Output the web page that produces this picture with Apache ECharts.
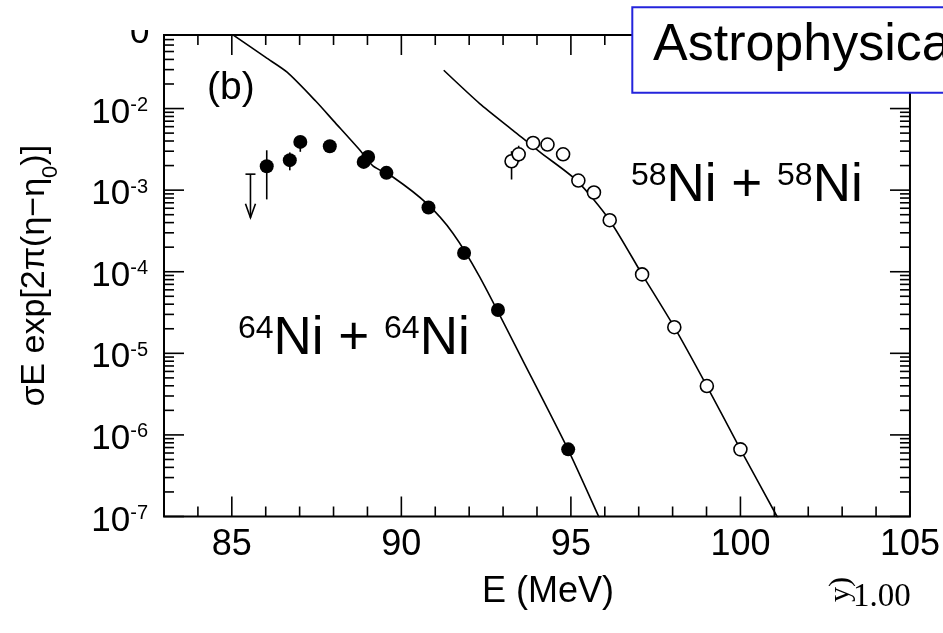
<!DOCTYPE html>
<html>
<head>
<meta charset="utf-8">
<script src="https://cdn.jsdelivr.net/npm/echarts@6/dist/echarts.min.js"></script>
<style>
  html, body { margin: 0; padding: 0; background: #fff; }
  #chart { width: 943px; height: 633px; }
</style>
</head>
<body>
<div id="chart"></div>
<script>
// ---- axis ranges and ticks ----
const X_MIN = 83, X_MAX = 105;
const Y_MIN = 1e-7, Y_MAX = 0.0797;
const xMajorTicks = [85, 90, 95, 100, 105];
const xMinorTicks = [84, 86, 87, 88, 89, 91, 92, 93, 94, 96, 97, 98, 99, 101, 102, 103, 104];
const yDecades = [-7, -6, -5, -4, -3, -2];
const yMantissas = [2, 3, 4, 5, 6, 7, 8, 9];

// ---- 64Ni + 64Ni (filled circles) ----
const ni64E = [86.03, 86.71, 87.02, 87.89, 88.89, 89.02, 89.56, 90.80, 91.85, 92.85, 94.92];
const ni64V = [1.96e-3, 2.33e-3, 3.9e-3, 3.45e-3, 2.22e-3, 2.55e-3, 1.63e-3, 6.12e-4, 1.70e-4, 3.4e-5, 6.65e-7];
const ni64ErrE  = [86.03, 86.71, 87.02];
const ni64ErrLo = [7.7e-4, 1.75e-3, 2.95e-3];
const ni64ErrHi = [3.08e-3, 2.9e-3, 4.6e-3];
// upper limit at the lowest energy
const ni64LimitE = [85.55];
const ni64LimitTop = [1.57e-3];
const ni64LimitTip = [4.6e-4];

// ---- 58Ni + 58Ni (open circles) ----
const ni58E = [93.25, 93.46, 93.885, 94.31, 94.77, 95.22, 95.68, 96.145, 97.10, 98.05, 99.01, 100.0];
const ni58V = [2.26e-3, 2.75e-3, 3.79e-3, 3.62e-3, 2.75e-3, 1.31e-3, 9.35e-4, 4.28e-4, 9.27e-5, 2.09e-5, 3.97e-6, 6.65e-7];
const ni58ErrE  = [93.25, 93.46];
const ni58ErrLo = [1.35e-3, 2.2e-3];
const ni58ErrHi = [3.0e-3, 3.5e-3];

// ---- calculated curves ----
const curve64E = [85.0, 86.0, 86.63, 87.48, 88.0, 88.78, 89.16, 89.75, 90.74, 91.52, 92.31, 93.61, 94.91, 95.82, 96.0];
const curve64V = [0.0818, 0.0423, 0.0279, 0.01227, 0.00706, 0.00308, 0.00199, 0.00145, 6.92e-4, 2.97e-4, 8.65e-5, 7.76e-6, 6.71e-7, 1.0e-7, 6.76e-8];
const curve58E = [91.25, 92.31, 93.29, 94.08, 95.16, 96.14, 97.10, 98.05, 99.01, 100.0, 101.08, 101.3];
const curve58V = [0.02944, 0.01151, 0.00542, 0.00294, 0.001324, 4.285e-4, 9.29e-5, 2.094e-5, 3.97e-6, 6.65e-7, 1.0e-7, 6.76e-8];

const zip = (a, b) => a.map((v, i) => [v, b[i]]);
const zip3 = (a, b, c) => a.map((v, i) => [v, b[i], c[i]]);

// tick marks on all four sides of the frame
const xTickData = xMajorTicks.map(e => [e, Y_MIN, 20]).concat(xMinorTicks.map(e => [e, Y_MIN, 10]));
const yTickData = [];
yDecades.forEach(d => {
  yTickData.push([X_MIN, Math.pow(10, d), 20]);
  yMantissas.forEach(m => {
    const v = m * Math.pow(10, d);
    if (v < Y_MAX) yTickData.push([X_MIN, v, 10]);
  });
});

const FONT = 'Liberation Sans, Arial, Helvetica, sans-serif';
const SERIF = 'Liberation Serif, Times New Roman, serif';
const INK = '#000';

const chart = echarts.init(document.getElementById('chart'), null, { renderer: 'canvas' });

chart.setOption({
  animation: false,
  backgroundColor: '#fff',
  grid: {
    left: 164, top: 35, width: 746.5, height: 481.5,
    show: true, borderColor: INK, borderWidth: 2, backgroundColor: 'transparent'
  },
  xAxis: {
    type: 'value', min: X_MIN, max: X_MAX,
    axisLine: { show: false },
    axisTick: { show: false },
    splitLine: { show: false },
    axisLabel: {
      margin: 11, color: INK, fontFamily: FONT, fontSize: 36,
      formatter: v => (Math.abs(v % 5) < 1e-9 ? String(v) : '')
    },
    name: 'E (MeV)', nameLocation: 'middle', nameGap: 58,
    nameTextStyle: { color: INK, fontFamily: FONT, fontSize: 36, padding: [0, 0, 0, 22] }
  },
  yAxis: {
    type: 'log', logBase: 10, min: Y_MIN, max: Y_MAX,
    axisLine: { show: false },
    axisTick: { show: false },
    splitLine: { show: false },
    axisLabel: {
      margin: 16, color: INK, fontFamily: FONT, padding: [9, 0, 0, 0],
      formatter: v => {
        const l = Math.log10(v);
        const e = Math.round(l);
        if (Math.abs(l - e) > 1e-6) return '';
        return '{b|10}{s|' + e + '}';
      },
      rich: {
        b: { fontSize: 35, lineHeight: 35, verticalAlign: 'bottom', fontFamily: FONT, color: INK },
        s: { fontSize: 20, lineHeight: 20, verticalAlign: 'top', padding: [0, 0, 22, 0], fontFamily: FONT, color: INK }
      }
    },
    name: '{t|σE exp[2π(η−η}{u|0}{t|)]}', nameLocation: 'middle', nameGap: 108,
    nameTextStyle: {
      rich: {
        t: { fontSize: 34, lineHeight: 38, verticalAlign: 'top', fontFamily: FONT, color: INK },
        u: { fontSize: 22, lineHeight: 38, verticalAlign: 'bottom', fontFamily: FONT, color: INK, padding: [0, 0, -6, 0] }
      }
    }
  },
  series: [
    {
      name: 'ticks-x', type: 'custom', clip: false, silent: true, z: 1,
      data: xTickData,
      encode: { x: 0, y: 1 },
      renderItem: (params, api) => {
        const cs = params.coordSys;
        const x = api.coord([api.value(0), Y_MIN])[0];
        const len = api.value(2);
        const st = { stroke: INK, lineWidth: 1.6 };
        return { type: 'group', children: [
          { type: 'line', shape: { x1: x, y1: cs.y + cs.height, x2: x, y2: cs.y + cs.height - len }, style: st },
          { type: 'line', shape: { x1: x, y1: cs.y, x2: x, y2: cs.y + len }, style: st }
        ] };
      }
    },
    {
      name: 'ticks-y', type: 'custom', clip: false, silent: true, z: 1,
      data: yTickData,
      encode: { x: 0, y: 1 },
      renderItem: (params, api) => {
        const cs = params.coordSys;
        const y = api.coord([X_MIN, api.value(1)])[1];
        const len = api.value(2);
        const st = { stroke: INK, lineWidth: 1.6 };
        return { type: 'group', children: [
          { type: 'line', shape: { x1: cs.x, y1: y, x2: cs.x + len, y2: y }, style: st },
          { type: 'line', shape: { x1: cs.x + cs.width, y1: y, x2: cs.x + cs.width - len, y2: y }, style: st }
        ] };
      }
    },
    {
      name: '64Ni calc', type: 'line', data: zip(curve64E, curve64V),
      showSymbol: false, smooth: 0.25, clip: true, z: 2,
      lineStyle: { color: INK, width: 1.6 }
    },
    {
      name: '58Ni calc', type: 'line', data: zip(curve58E, curve58V),
      showSymbol: false, smooth: 0.25, clip: true, z: 2,
      lineStyle: { color: INK, width: 1.6 }
    },
    {
      name: 'error bars', type: 'custom', z: 2,
      data: zip3(ni64ErrE, ni64ErrLo, ni64ErrHi).concat(zip3(ni58ErrE, ni58ErrLo, ni58ErrHi)),
      encode: { x: 0, y: [1, 2] },
      renderItem: (params, api) => {
        const p1 = api.coord([api.value(0), api.value(1)]);
        const p2 = api.coord([api.value(0), api.value(2)]);
        return { type: 'line', shape: { x1: p1[0], y1: p1[1], x2: p2[0], y2: p2[1] },
          style: { stroke: INK, lineWidth: 1.6 } };
      }
    },
    {
      name: 'upper limit', type: 'custom', z: 2,
      data: zip3(ni64LimitE, ni64LimitTop, ni64LimitTip),
      encode: { x: 0, y: [1, 2] },
      renderItem: (params, api) => {
        const p1 = api.coord([api.value(0), api.value(1)]);
        const p2 = api.coord([api.value(0), api.value(2)]);
        const st = { stroke: INK, lineWidth: 1.6, fill: 'none' };
        return { type: 'group', children: [
          { type: 'line', shape: { x1: p1[0], y1: p1[1], x2: p2[0], y2: p2[1] }, style: st },
          { type: 'line', shape: { x1: p1[0] - 5, y1: p1[1], x2: p1[0] + 5, y2: p1[1] }, style: st },
          { type: 'polyline', shape: { points: [[p2[0] - 5, p2[1] - 14], [p2[0], p2[1]], [p2[0] + 5, p2[1] - 14]] }, style: st }
        ] };
      }
    },
    {
      name: '64Ni + 64Ni', type: 'scatter', data: zip(ni64E, ni64V), z: 3,
      symbol: 'circle', symbolSize: 14,
      itemStyle: { color: INK, opacity: 1 }
    },
    {
      name: '58Ni + 58Ni', type: 'scatter', data: zip(ni58E, ni58V), z: 3,
      symbol: 'circle', symbolSize: 13,
      itemStyle: { color: '#fff', borderColor: INK, borderWidth: 1.6, opacity: 1 }
    }
  ],
  graphic: [
    { type: 'text', z: 50, left: 130, top: 16,
      style: { text: '0', font: '35px ' + FONT, fill: INK } },
    { type: 'rect', z: 51, shape: { x: 0, y: 0, width: 632, height: 30 }, style: { fill: '#fff' } },
    { type: 'text', z: 50, left: 207, top: 69,
      style: { text: '(b)', font: '39px ' + FONT, fill: INK } },
    { type: 'text', z: 50, left: 238, top: 313,
      style: {
        text: '{p|64}{n|Ni + }{p|64}{n|Ni}',
        rich: {
          p: { fontSize: 32, lineHeight: 32, verticalAlign: 'top', fontFamily: FONT, fill: INK },
          n: { fontSize: 53, lineHeight: 53, verticalAlign: 'bottom', fontFamily: FONT, fill: INK }
        }
      } },
    { type: 'text', z: 50, left: 631, top: 160,
      style: {
        text: '{p|58}{n|Ni + }{p|58}{n|Ni}',
        rich: {
          p: { fontSize: 32, lineHeight: 32, verticalAlign: 'top', fontFamily: FONT, fill: INK },
          n: { fontSize: 53, lineHeight: 53, verticalAlign: 'bottom', fontFamily: FONT, fill: INK }
        }
      } },
    { type: 'rect', z: 60, shape: { x: 632.3, y: 7.3, width: 340, height: 85.4 },
      style: { fill: '#fff', stroke: '#2424dc', lineWidth: 2 } },
    { type: 'text', z: 61, left: 653, top: 20,
      style: { text: 'Astrophysical S factor', font: '52px ' + FONT, fill: INK } },
    { type: 'text', z: 50, x: 841, y: 577, rotation: Math.PI / 2,
      style: { text: 'y)', font: '30px ' + SERIF, fill: INK, textAlign: 'right', textVerticalAlign: 'middle' } },
    { type: 'text', z: 50, left: 853, top: 581,
      style: { text: '1.00', font: '33px ' + SERIF, fill: INK } }
  ]
});
</script>
</body>
</html>
